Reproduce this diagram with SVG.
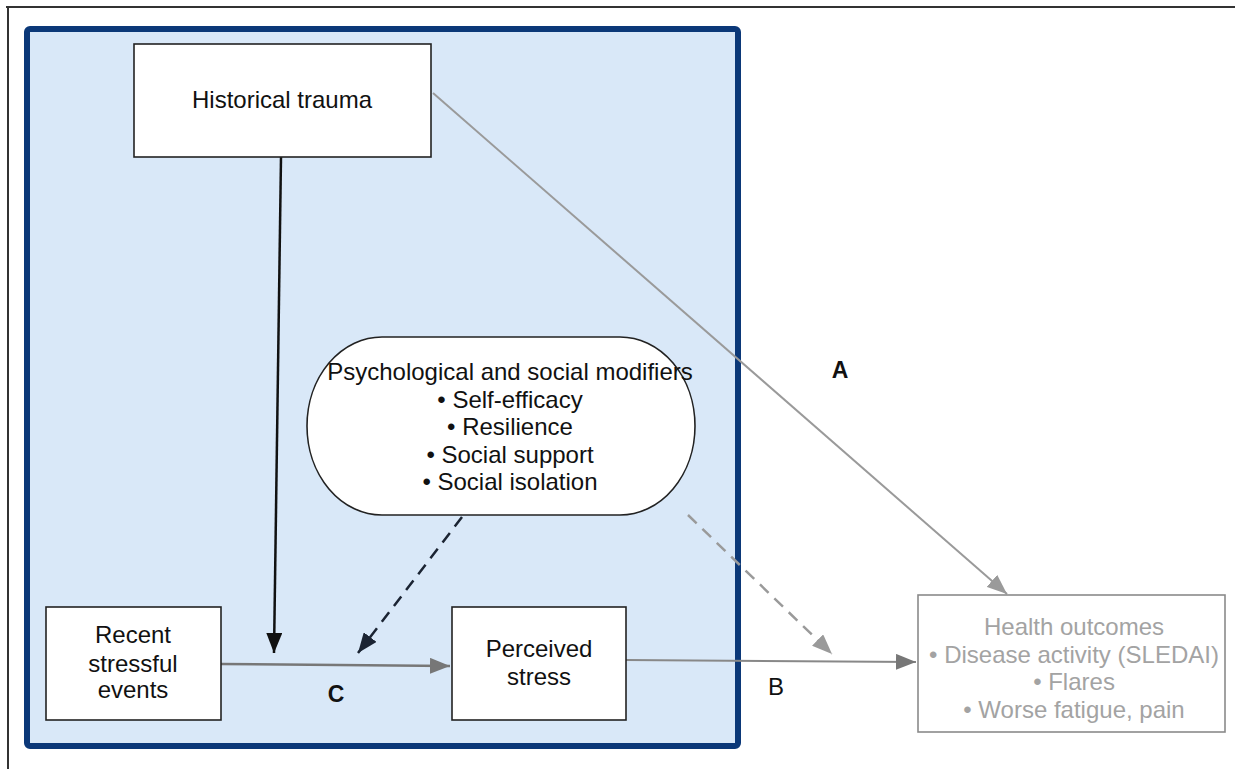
<svg xmlns="http://www.w3.org/2000/svg" width="1235" height="769" viewBox="0 0 1235 769">
<defs>
<style>
text{font-family:"Liberation Sans",Arial,Helvetica,sans-serif;font-size:24px;fill:#111;text-anchor:middle}
.box{fill:#fff;stroke:#222;stroke-width:1.6}
.gtext{fill:#a3a3a3}
.lbl{font-weight:bold;font-size:23px}
</style>
<marker id="ahBlack" viewBox="0 0 20 16" refX="20" refY="8" markerWidth="20" markerHeight="16" orient="auto" markerUnits="userSpaceOnUse"><path d="M0,0 L20,8 L0,16 z" fill="#111"/></marker>
<marker id="ahNavy" viewBox="0 0 20 16" refX="20" refY="8" markerWidth="20" markerHeight="16" orient="auto" markerUnits="userSpaceOnUse"><path d="M0,0 L20,8 L0,16 z" fill="#1b2433"/></marker>
<marker id="ahGray" viewBox="0 0 20 16" refX="20" refY="8" markerWidth="20" markerHeight="16" orient="auto" markerUnits="userSpaceOnUse"><path d="M0,0 L20,8 L0,16 z" fill="#777"/></marker>
<marker id="ahLight" viewBox="0 0 20 16" refX="20" refY="8" markerWidth="20" markerHeight="16" orient="auto" markerUnits="userSpaceOnUse"><path d="M0,0 L20,8 L0,16 z" fill="#9a9a9a"/></marker>
</defs>
<rect width="1235" height="769" fill="#fff"/>
<path d="M6,7 H1235 M8,7 V769" stroke="#333" stroke-width="2" fill="none"/>
<rect id="group-frame" x="27" y="29" width="711" height="717" rx="3" fill="#d9e8f8" stroke="#0b3878" stroke-width="6"/>
<g id="connectors" fill="none">
<line x1="433" y1="93" x2="1007" y2="594" stroke="#9a9a9a" stroke-width="2" marker-end="url(#ahLight)"/>
<line x1="281" y1="157" x2="274" y2="653" stroke="#111" stroke-width="2.5" marker-end="url(#ahBlack)"/>
<line x1="221" y1="664" x2="450" y2="666" stroke="#777" stroke-width="2.5" marker-end="url(#ahGray)"/>
<line x1="626" y1="660" x2="916" y2="662" stroke="#888" stroke-width="2" marker-end="url(#ahGray)"/>
<line x1="462" y1="517" x2="358" y2="653" stroke="#1b2433" stroke-width="2.5" stroke-dasharray="12,8" marker-end="url(#ahNavy)"/>
<line x1="688" y1="515" x2="832" y2="654" stroke="#9a9a9a" stroke-width="2.5" stroke-dasharray="12,8" marker-end="url(#ahLight)"/>
</g>
<g id="labels">
<text x="840" y="378" class="lbl">A</text>
<text x="776" y="695">B</text>
<text x="336" y="702" class="lbl">C</text>
</g>
<g id="historical-trauma">
<rect class="box" x="134" y="44" width="297" height="113"/>
<text x="282" y="108">Historical trauma</text>
</g>
<g id="modifiers">
<rect class="box" x="307" y="337" width="388" height="178" rx="75" ry="89"/>
<text x="510" y="380">Psychological and social modifiers</text>
<text x="510" y="408">• Self-efficacy</text>
<text x="510" y="435">• Resilience</text>
<text x="510" y="463">• Social support</text>
<text x="510" y="490">• Social isolation</text>
</g>
<g id="recent-events">
<rect class="box" x="46" y="607" width="175" height="113"/>
<text x="133" y="643">Recent</text>
<text x="133" y="672">stressful</text>
<text x="133" y="698">events</text>
</g>
<g id="perceived-stress">
<rect class="box" x="452" y="607" width="174" height="113"/>
<text x="539" y="657">Perceived</text>
<text x="539" y="685">stress</text>
</g>
<g id="health-outcomes">
<rect x="918" y="595" width="307" height="137" fill="#fff" stroke="#8a8a8a" stroke-width="1.6"/>
<text class="gtext" x="1074" y="635">Health outcomes</text>
<text class="gtext" x="1074" y="663">• Disease activity (SLEDAI)</text>
<text class="gtext" x="1074" y="690">• Flares</text>
<text class="gtext" x="1074" y="718">• Worse fatigue, pain</text>
</g>
</svg>
